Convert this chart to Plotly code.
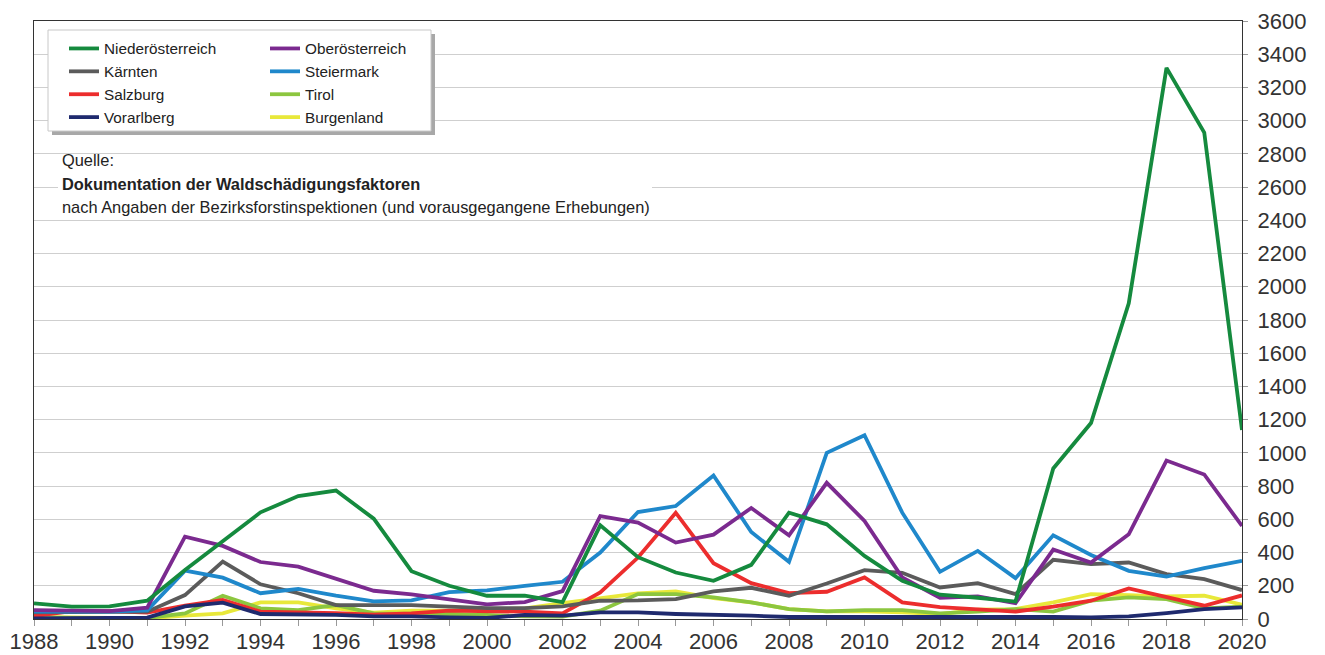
import plotly.graph_objects as go

years = list(range(1988, 2021))

niederoesterreich = [94, 74, 76, 110, 295, 465, 642, 740, 773, 604, 288, 200, 140, 140, 102, 564, 372, 280, 230, 326,
                     640, 570, 380, 230, 146, 128, 105, 906, 1180, 1900, 3318, 2928, 1138]
oberoesterreich = [54, 50, 48, 68, 496, 440, 343, 315, 245, 170, 148, 118, 88, 102, 168, 620, 580, 460, 508, 668,
                   504, 820, 590, 250, 128, 136, 95, 418, 340, 510, 954, 870, 560]
kaernten = [40, 42, 42, 44, 144, 345, 209, 155, 84, 84, 84, 74, 66, 66, 76, 110, 112, 120, 166, 188,
            140, 214, 294, 278, 190, 216, 150, 356, 330, 340, 270, 240, 174]
steiermark = [44, 44, 44, 52, 291, 249, 155, 181, 140, 106, 112, 162, 172, 200, 224, 400, 644, 680, 864, 524,
              344, 1000, 1106, 640, 284, 410, 246, 504, 385, 290, 255, 306, 350]
salzburg = [18, 48, 48, 38, 80, 114, 44, 40, 35, 26, 34, 50, 48, 44, 34, 160, 370, 640, 336, 216,
            156, 164, 250, 100, 72, 58, 45, 74, 110, 184, 130, 80, 142]
tirol = [10, 6, 4, 6, 34, 140, 64, 54, 84, 34, 34, 30, 24, 16, 14, 50, 150, 150, 130, 100,
         60, 46, 54, 54, 34, 44, 60, 44, 110, 130, 120, 64, 74]
vorarlberg = [4, 4, 4, 8, 76, 98, 30, 30, 25, 16, 16, 10, 6, 24, 20, 40, 40, 30, 26, 20,
              12, 10, 12, 12, 12, 16, 16, 12, 10, 16, 36, 60, 70]
burgenland = [12, 8, 6, 4, 20, 34, 100, 100, 64, 38, 50, 50, 56, 64, 96, 126, 154, 166, 126, 100,
              60, 46, 46, 40, 30, 56, 60, 100, 150, 144, 136, 140, 86]

series_names = ["Niederösterreich", "Oberösterreich", "Kärnten", "Steiermark",
                "Salzburg", "Tirol", "Vorarlberg", "Burgenland"]
series_values = [niederoesterreich, oberoesterreich, kaernten, steiermark,
                 salzburg, tirol, vorarlberg, burgenland]
series_colors = ["#158a3e", "#7b2a8f", "#5b5b5b", "#1f88cb",
                 "#ec2d2d", "#8cc63f", "#1f2a6e", "#e8e83a"]
legend_ids = ["legend", "legend2", "legend", "legend2", "legend", "legend2", "legend", "legend2"]

source_lines = ["Quelle:",
                "<b>Dokumentation der Waldschädigungsfaktoren</b>",
                "nach Angaben der Bezirksforstinspektionen (und vorausgegangene Erhebungen)"]

# draw order: so that the bottom lines match reference stacking
draw_order = [7, 5, 4, 2, 3, 1, 0, 6]

FONT = "Liberation Sans, Arial, sans-serif"

# page body has an 8px margin, so the figure is 8px smaller than the window
W, H = 1317, 647
L, R, T, B = 26, 1234, 13, 611
REF_L, REF_R, REF_T, REF_B = 34, 1242, 21, 619   # plot area in window pixels


def px_x(p):
    return (p - REF_L) / (REF_R - REF_L)


def px_y(p):
    return (REF_B - p) / (REF_B - REF_T)


fig = go.Figure()
for i in draw_order:
    fig.add_trace(go.Scatter(
        x=years, y=series_values[i], name=series_names[i], mode="lines",
        line=dict(color=series_colors[i], width=3.8),
        legend=legend_ids[i], legendrank=i + 1,
    ))

# legend frame with shadow
fig.add_shape(type="rect", xref="paper", yref="paper",
              x0=px_x(52), x1=px_x(435), y0=px_y(135), y1=px_y(34),
              fillcolor="#a8a8a8", line=dict(width=0), layer="above")
fig.add_shape(type="rect", xref="paper", yref="paper",
              x0=px_x(48), x1=px_x(431), y0=px_y(131), y1=px_y(30),
              fillcolor="white", line=dict(color="#c8c8c8", width=1), layer="above")

# white area behind source text
fig.add_shape(type="rect", xref="paper", yref="paper",
              x0=px_x(58), x1=px_x(652), y0=px_y(218), y1=px_y(157),
              fillcolor="white", line=dict(width=0), layer="above")
for txt, cy in zip(source_lines, [160, 184, 207]):
    fig.add_annotation(
        xref="paper", yref="paper", x=px_x(60), y=px_y(cy), xanchor="left", yanchor="middle",
        align="left", showarrow=False, borderpad=1, text=txt,
        font=dict(family=FONT, size=16.4, color="#222"),
    )

legend_common = dict(
    bgcolor="rgba(0,0,0,0)", borderwidth=0, orientation="v",
    font=dict(family=FONT, size=15.3, color="#222"),
    xanchor="left", yanchor="top", tracegroupgap=0, itemwidth=30,
    traceorder="normal",
)

fig.update_layout(
    width=W, height=H,
    margin=dict(l=L, r=W - R, t=T, b=H - B, autoexpand=False),
    paper_bgcolor="white", plot_bgcolor="white",
    font=dict(family=FONT, color="#333"),
    showlegend=True,
    legend=dict(x=px_x(64), y=px_y(32), **legend_common),
    legend2=dict(x=px_x(265), y=px_y(32), **legend_common),
    xaxis=dict(
        range=[1988, 2020], tickmode="linear", tick0=1988, dtick=2,
        ticks="outside", ticklen=6, tickcolor="#999", tickwidth=1, ticklabelstandoff=-4,
        minor=dict(dtick=1, tick0=1988, ticks="outside", ticklen=6, tickcolor="#999", showgrid=False),
        showgrid=False, showline=True, linecolor="#333", linewidth=1.2, mirror=True,
        tickfont=dict(family=FONT, size=22, color="#333"), zeroline=False,
    ),
    yaxis=dict(
        range=[0, 3600], tickmode="linear", tick0=0, dtick=200, side="right",
        ticks="outside", ticklen=5, tickcolor="#999", ticklabelstandoff=5,
        showgrid=True, gridcolor="#cfcfcf", gridwidth=1,
        showline=True, linecolor="#333", linewidth=1.2, mirror=True,
        tickfont=dict(family=FONT, size=22, color="#333"), zeroline=False,
    ),
)

fig.write_html("out.html")
